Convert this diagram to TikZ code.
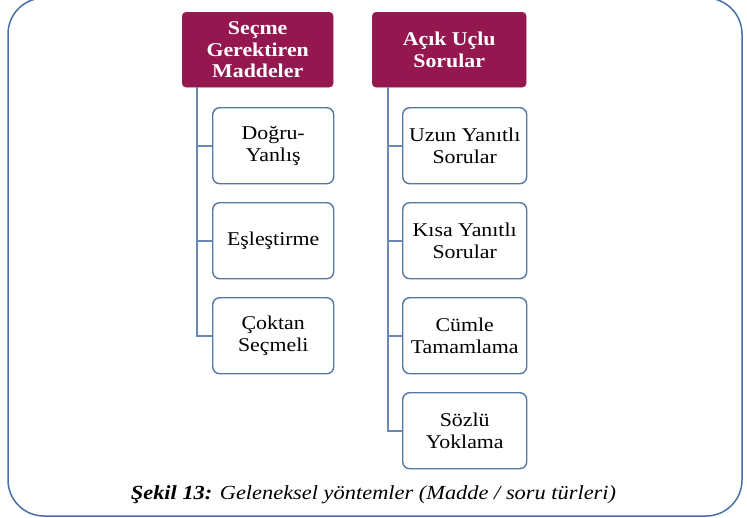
\documentclass[tikz,border=0pt]{standalone}
\usepackage{fontspec}
\setmainfont{Liberation Serif}[FakeStretch=1.12]
\definecolor{hdr}{HTML}{95174F}
\definecolor{frm}{HTML}{4A6FA5}
\definecolor{bdr}{HTML}{5478A3}
\definecolor{cn}{HTML}{6A88B0}
\tikzset{
  hdrbox/.style={fill=hdr, draw=hdr, rounded corners=4pt, minimum width=151pt, minimum height=75pt,
    text=white, align=center, font=\fontsize{19.5}{21.5}\selectfont\bfseries, anchor=north west, inner sep=0pt},
  childbox/.style={draw=bdr, line width=1.4pt, fill=white, rounded corners=7pt, minimum height=76pt,
    align=center, font=\fontsize{19.5}{22}\selectfont, anchor=north west, inner sep=0pt},
  lbox/.style={childbox, minimum width=121pt},
  rbox/.style={childbox, minimum width=124pt},
  conn/.style={draw=cn, line width=1.6pt},
}
\begin{document}
\begin{tikzpicture}[x=1pt,y=-1pt]
\useasboundingbox (0,0) rectangle (747,517);
\draw[frm, line width=1.5pt, rounded corners=36pt] (8,-2) rectangle (742,516);
% headers
\node[hdrbox] (h1) at (182,12) {Seçme\\Gerektiren\\Maddeler};
\node[hdrbox, minimum width=154pt] (h2) at (372,12) {Açık Uçlu\\Sorular};
% left children
\node[lbox] (l1) at (212,107) {Doğru-\\Yanlış};
\node[lbox] (l2) at (212,202) {Eşleştirme};
\node[lbox] (l3) at (212,297) {Çoktan\\Seçmeli};
% right children
\node[rbox] (r1) at (402,107) {Uzun Yanıtlı\\Sorular};
\node[rbox] (r2) at (402,202) {Kısa Yanıtlı\\Sorular};
\node[rbox] (r3) at (402,297) {Cümle\\Tamamlama};
\node[rbox] (r4) at (402,392) {Sözlü\\Yoklama};
% connectors
\foreach \c in {l1,l2,l3} \draw[conn] ([xshift=15pt]h1.south west) |- (\c.west);
\foreach \c in {r1,r2,r3,r4} \draw[conn] ([xshift=16pt]h2.south west) |- (\c.west);
% caption
\node[font=\fontsize{20}{22}\selectfont\itshape] (cap) at (373.5,495) {\textbf{Şekil 13:} Geleneksel yöntemler (Madde / soru türleri)};
\end{tikzpicture}
\end{document}
